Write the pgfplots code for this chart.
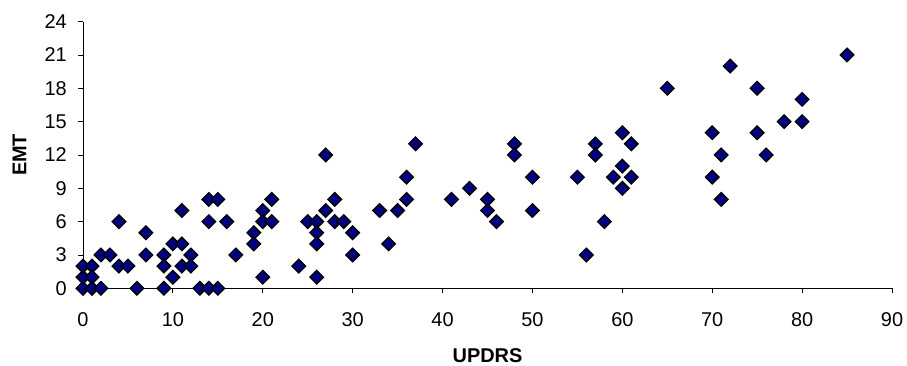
\documentclass[border=0pt]{standalone}
\usepackage{fontspec}
\setmainfont{Liberation Sans}
\usepackage{pgfplots}
\pgfplotsset{compat=1.18}
\definecolor{navyfill}{RGB}{0,0,128}
\begin{document}
\fontsize{20}{24}\selectfont
\begin{tikzpicture}[x=1bp,y=1bp]
\useasboundingbox (0,0) rectangle (907,365);
\begin{axis}[
  at={(83bp,76.7bp)}, anchor=south west,
  scale only axis, width=809bp, height=266.7bp,
  xmin=0, xmax=90, ymin=0, ymax=24,
  xtick={0,10,...,90}, ytick={0,3,...,24},
  axis x line=bottom, axis y line=left,
  axis line style={-, black, line width=0.8bp},
  tick align=outside, major tick length=5bp,
  tick style={black, line width=0.8bp},
  /pgf/number format/assume math mode=true,
  ticklabel style={font=\fontsize{20}{24}\selectfont},
  xticklabel style={anchor=center, inner sep=0pt, yshift=-26bp},
  yticklabel style={anchor=east, inner sep=0pt, xshift=-11bp},
  xlabel={\textbf{UPDRS}}, ylabel={\textbf{EMT}},
  x label style={at={(axis description cs:0.5,-0.252)}, anchor=center, font=\fontsize{20}{24}\selectfont},
  y label style={at={(axis description cs:-0.0785,0.5)}, anchor=center, font=\fontsize{20}{24}\selectfont},
  clip=false,
]
\addplot[only marks, mark=square*, mark size=4.8bp,
  mark options={rotate=45, fill=navyfill, draw=black, line width=1.3bp}]
coordinates {
(0,0) (0,1) (0,2) (1,2) (1,1) (1,0) (2,0) (2,3) (3,3) (4,6) (4,2) (5,2) (6,0)
(7,5) (7,3) (9,3) (9,2) (9,0) (10,1) (10,4) (11,4) (11,2) (11,7) (12,3) (12,2)
(13,0) (14,0) (15,0) (14,8) (15,8) (14,6) (16,6) (17,3) (19,5) (19,4) (20,7)
(20,6) (20,1) (21,8) (21,6)
(24,2) (25,6) (26,6) (26,5) (26,4) (26,1) (27,12) (27,7) (28,8) (28,6) (29,6)
(30,5) (30,3) (33,7) (34,4) (35,7) (36,8) (36,10) (37,13) (41,8) (43,9)
(45,8) (45,7) (46,6) (48,13) (48,12) (50,10) (50,7) (55,10) (56,3) (57,13)
(57,12) (58,6) (59,10) (60,14) (60,11) (60,9) (61,13) (61,10)
(65,18) (72,20) (75,18) (85,21) (80,17) (78,15) (80,15) (70,14) (75,14)
(71,12) (76,12) (70,10) (71,8)
};
\end{axis}
\end{tikzpicture}
\end{document}
